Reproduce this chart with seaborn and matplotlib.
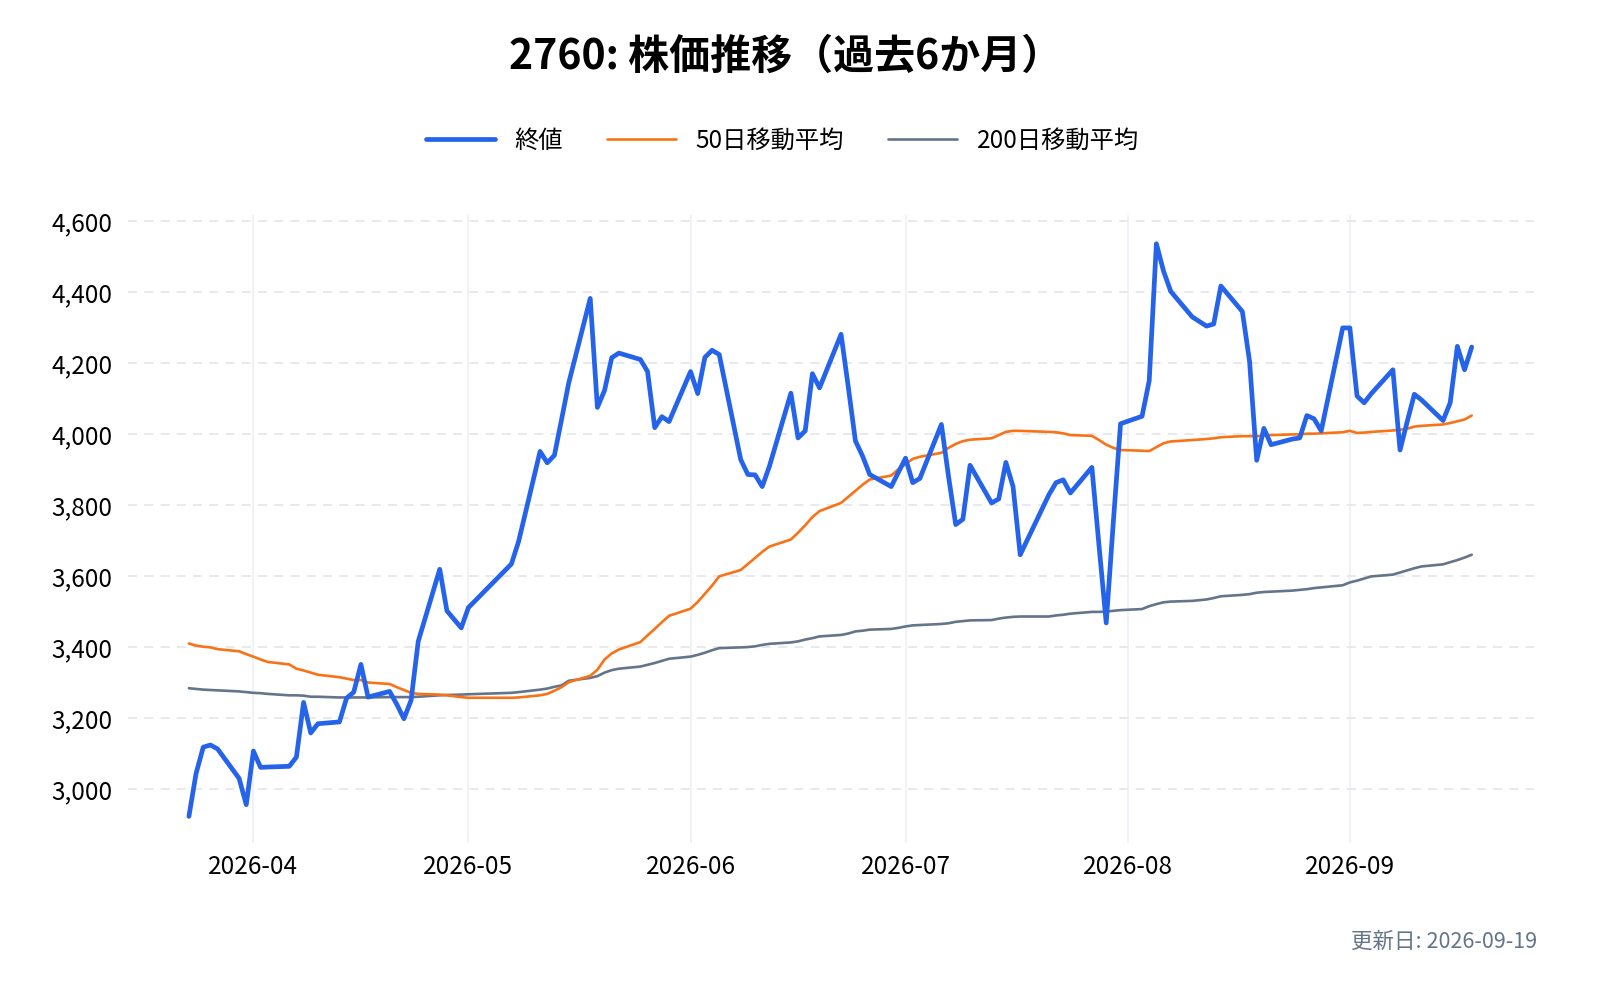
import pandas as pd
import matplotlib.pyplot as plt
import matplotlib.dates as mdates
from matplotlib.ticker import FuncFormatter
from matplotlib.lines import Line2D
import seaborn as sns

# -------- DATA --------
holidays = ["2026-04-29", "2026-05-04", "2026-05-05", "2026-05-06", "2026-07-20", "2026-08-11"]
dates = pd.bdate_range("2026-03-23", "2026-09-18")
dates = dates[~dates.isin(pd.to_datetime(holidays))]

close = [
    # Mar
    2923, 3044, 3118, 3124, 3113, 3030, 2956,
    # Apr
    3107, 3061, 3062, 3064, 3090, 3244, 3158, 3184, 3189, 3256, 3273, 3351, 3259, 3275,
    3239, 3198, 3250, 3416, 3619, 3502, 3454,
    # May
    3511, 3634, 3697, 3951, 3919, 3940, 4041, 4144, 4382, 4075, 4123, 4215, 4228, 4210,
    4176, 4018, 4049, 4035,
    # Jun
    4176, 4114, 4216, 4236, 4224, 3928, 3886, 3885, 3852, 3909, 4115, 3989, 4009, 4170,
    4130, 4281, 4134, 3981, 3938, 3886, 3852, 3892,
    # Jul
    3932, 3863, 3875, 4027, 3880, 3745, 3760, 3912, 3806, 3817, 3920, 3852, 3660, 3829,
    3863, 3871, 3834, 3906, 3685, 3468, 3754, 4029,
    # Aug
    4050, 4150, 4536, 4459, 4402, 4330, 4304, 4310, 4417, 4345, 4205, 3926, 4016, 3970,
    3986, 3989, 4052, 4043, 4009, 4299,
    # Sep
    4299, 4107, 4088, 4114, 4181, 3955, 4035, 4112, 4096, 4038, 4088, 4247, 4181, 4245,
]

ma50 = [
    3410, 3404, 3401, 3399, 3394, 3388, 3380,
    3373, 3365, 3358, 3351, 3339, 3334, 3328, 3322, 3315, 3311, 3307, 3307, 3300, 3296,
    3287, 3279, 3271, 3268, 3266, 3264, 3259,
    3257, 3257, 3258, 3264, 3268, 3277, 3287, 3301, 3319, 3336, 3365, 3382, 3393, 3414,
    3433, 3451, 3470, 3488,
    3508, 3527, 3550, 3573, 3599, 3617, 3634, 3651, 3668, 3683, 3703, 3722, 3743, 3766,
    3783, 3806, 3823, 3840, 3857, 3872, 3883, 3901,
    3915, 3930, 3936, 3947, 3961, 3972, 3980, 3984, 3988, 3997, 4006, 4009, 4009, 4006,
    4005, 4002, 3997, 3995, 3983, 3970, 3961, 3955,
    3953, 3952, 3963, 3974, 3979, 3983, 3986, 3988, 3991, 3994, 3994, 3994, 3996, 3997,
    3999, 3999, 4001, 4001, 4002, 4005,
    4009, 4003, 4004, 4006, 4010, 4012, 4015, 4021, 4023, 4027, 4031, 4036, 4041, 4052,
]

ma200 = [
    3284, 3282, 3280, 3279, 3278, 3275, 3273,
    3271, 3270, 3268, 3264, 3264, 3263, 3260, 3260, 3258, 3258, 3258, 3258, 3258, 3259,
    3259, 3259, 3259, 3260, 3264, 3265, 3266,
    3267, 3271, 3273, 3280, 3283, 3288, 3292, 3305, 3313, 3318, 3328, 3335, 3339, 3345,
    3350, 3355, 3361, 3367,
    3373, 3378, 3384, 3391, 3397, 3399, 3400, 3402, 3406, 3409, 3413, 3416, 3421, 3425,
    3430, 3434, 3438, 3444, 3446, 3449, 3451, 3454,
    3458, 3461, 3462, 3465, 3467, 3471, 3473, 3475, 3476, 3480, 3483, 3485, 3486, 3486,
    3489, 3491, 3494, 3499, 3499, 3500, 3502, 3504,
    3507, 3515, 3521, 3526, 3528, 3530, 3534, 3538, 3543, 3547, 3549, 3553, 3555, 3556,
    3559, 3561, 3563, 3566, 3568, 3574,
    3582, 3587, 3593, 3599, 3604, 3610, 3616, 3622, 3627, 3633, 3639, 3645, 3652, 3660,
]

labels = ["終値", "50日移動平均", "200日移動平均"]
colors = ["#2563eb", "#f97316", "#64748b"]
title = "2760: 株価推移（過去6か月）"
footer = "更新日: 2026-09-19"

df = pd.DataFrame({"date": dates, "close": close, "ma50": ma50, "ma200": ma200})

# -------- PLOT --------
sns.set_theme(style="white")
plt.rcParams["font.family"] = ["Noto Sans CJK JP", "DejaVu Sans"]
plt.rcParams["text.color"] = "black"

fig = plt.figure(figsize=(16, 10), dpi=100)
ax = fig.add_axes([0.08, 0.157, 0.879, 0.628])

sns.lineplot(data=df, x="date", y="ma200", ax=ax, color=colors[2], linewidth=1.9)
sns.lineplot(data=df, x="date", y="ma50", ax=ax, color=colors[1], linewidth=1.9)
sns.lineplot(data=df, x="date", y="close", ax=ax, color=colors[0], linewidth=3.4)

ax.set_xlim(pd.Timestamp("2026-03-14 12:00"), pd.Timestamp("2026-09-26 18:00"))
ax.set_ylim(2848, 4617)
ax.set_yticks(range(3000, 4601, 200))
ax.yaxis.set_major_formatter(FuncFormatter(lambda v, p: f"{int(v):,}"))
ax.xaxis.set_major_locator(mdates.MonthLocator())
ax.xaxis.set_major_formatter(mdates.DateFormatter("%Y-%m"))

ax.grid(axis="y", color="#e5e7eb", linestyle=(0, (5, 4)), linewidth=1.3)
ax.grid(axis="x", color="#eef2f7", linestyle="-", linewidth=1.3)
ax.set_axisbelow(True)
for s in ax.spines.values():
    s.set_visible(False)
ax.tick_params(axis="x", length=0, labelsize=17.5, colors="black", pad=8)
ax.tick_params(axis="y", length=0, labelsize=17.5, colors="black", pad=11)
ax.set_xlabel("")
ax.set_ylabel("")

handles = [
    Line2D([0], [0], color=colors[0], linewidth=3.4),
    Line2D([0], [0], color=colors[1], linewidth=1.9),
    Line2D([0], [0], color=colors[2], linewidth=1.9),
]
leg = fig.legend(handles, labels, loc="center", bbox_to_anchor=(0.489, 0.859), ncol=3,
                 frameon=False, fontsize=17.5, handlelength=2.85, columnspacing=1.8,
                 handletextpad=0.8)
for t in leg.get_texts():
    t.set_color("black")

fig.text(0.491, 0.943, title, ha="center", va="center", fontsize=29.5,
         fontweight="bold", color="black")
fig.text(0.961, 0.058, footer, ha="right", va="center", fontsize=15.5, color="#64748b")

fig.savefig("out.png", dpi=100)
